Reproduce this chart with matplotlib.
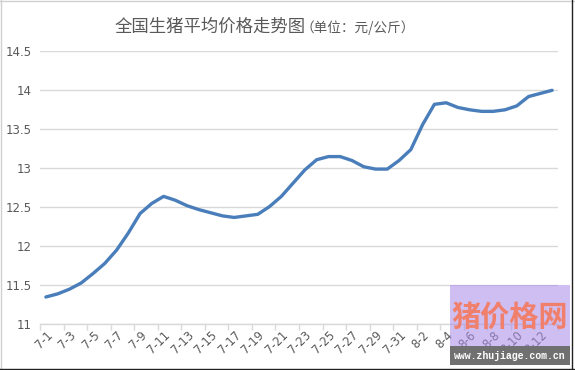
import matplotlib
matplotlib.use("Agg")
import matplotlib.pyplot as plt
from matplotlib.patches import Rectangle
from matplotlib.lines import Line2D

plt.rcParams['font.family'] = ['Noto Sans CJK SC', 'DejaVu Sans']

dates = [f"7-{d}" for d in range(1, 32)] + [f"8-{d}" for d in range(1, 14)]
prices = [11.35, 11.39, 11.45, 11.53, 11.65, 11.78, 11.95, 12.17, 12.42, 12.55,
          12.64, 12.59, 12.52, 12.47, 12.43, 12.39, 12.37, 12.39, 12.41, 12.51,
          12.64, 12.81, 12.98, 13.11, 13.15, 13.15, 13.10, 13.02, 12.99, 12.99,
          13.10, 13.24, 13.56, 13.82, 13.84, 13.78, 13.75, 13.73, 13.73, 13.75,
          13.80, 13.92, 13.96, 14.00]
yticks = [11, 11.5, 12, 12.5, 13, 13.5, 14, 14.5]
ytick_labels = ["11", "11.5", "12", "12.5", "13", "13.5", "14", "14.5"]
title_main = "全国生猪平均价格走势图"
title_unit = "（单位：元/公斤）"

W, H = 575, 370
fig = plt.figure(figsize=(W / 100, H / 100), dpi=100)
ax = fig.add_axes([40 / W, 1 - 324.3 / H, 518 / W, (324.3 - 51.3) / H])

x = list(range(len(dates)))
ax.plot(x, prices, color='#4a7ebb', lw=2.4, solid_joinstyle='round', solid_capstyle='round', zorder=3)

ax.set_xlim(-0.5, len(dates) - 0.5)
ax.set_ylim(11, 14.5)
ax.set_yticks(yticks)
ax.set_yticklabels(ytick_labels, fontsize=8.5, color='#595959', family='DejaVu Sans')
ax.yaxis.grid(True, color='#d9d9d9', lw=1)
ax.set_axisbelow(True)
for s in ['left', 'right', 'top']:
    ax.spines[s].set_visible(False)
ax.spines['bottom'].set_color('#d9d9d9')
ax.spines['bottom'].set_linewidth(1)
ax.tick_params(axis='y', length=0, pad=6)

# major ticks at category boundaries every 2 categories, labels on minor at centers
ax.set_xticks([i - 0.5 for i in range(0, len(dates) + 1, 2)])
ax.set_xticklabels([])
ax.tick_params(axis='x', which='major', length=4, color='#d9d9d9', width=1)
lab_idx = list(range(0, len(dates), 2))
ax.set_xticks(lab_idx, minor=True)
ax.set_xticklabels([dates[i] for i in lab_idx], minor=True, rotation=45, ha='right',
                   va='top', rotation_mode='anchor', fontsize=8.3, color='#595959',
                   family='DejaVu Sans')
ax.tick_params(axis='x', which='minor', length=0, pad=3)

# title
fig.text(115 / W, 1 - 27 / H, title_main, fontsize=12.5, color='#595959', ha='left', va='center')
fig.text(300 / W, 1 - 28 / H, title_unit, fontsize=9.8, color='#595959', ha='left', va='center')

# watermark overlay
fig.patches.append(Rectangle((450 / W, 1 - 346 / H), 120 / W, 61 / H, transform=fig.transFigure,
                             facecolor='#a98ae8', alpha=0.55, edgecolor='none', zorder=10))
fig.patches.append(Rectangle((450 / W, 1 - 365 / H), 120 / W, 19 / H, transform=fig.transFigure,
                             facecolor='#707070', edgecolor='none', zorder=10))
fig.text(510 / W, 1 - 317 / H, "猪价格网", fontsize=21, fontweight='bold', color='#f0806c',
         ha='center', va='center', zorder=11)
fig.text(510 / W, 1 - 356 / H, "www.zhujiage.com.cn", fontsize=7.1, color='white',
         family='Liberation Mono', fontweight='bold', ha='center', va='center', zorder=11)

# chart borders
fig.add_artist(Line2D([0.5 / W, 0.5 / W], [0, 1], color='#d0d0d0', lw=1, transform=fig.transFigure))
fig.add_artist(Line2D([0, 1], [1 - 0.5 / H, 1 - 0.5 / H], color='#d0d0d0', lw=1, transform=fig.transFigure))
fig.add_artist(Line2D([572 / W, 572 / W], [0, 1], color='#222222', lw=1, transform=fig.transFigure))
fig.add_artist(Line2D([0, 1], [1 - 368.5 / H, 1 - 368.5 / H], color='#222222', lw=1, transform=fig.transFigure))

fig.savefig("out.png", dpi=100)
